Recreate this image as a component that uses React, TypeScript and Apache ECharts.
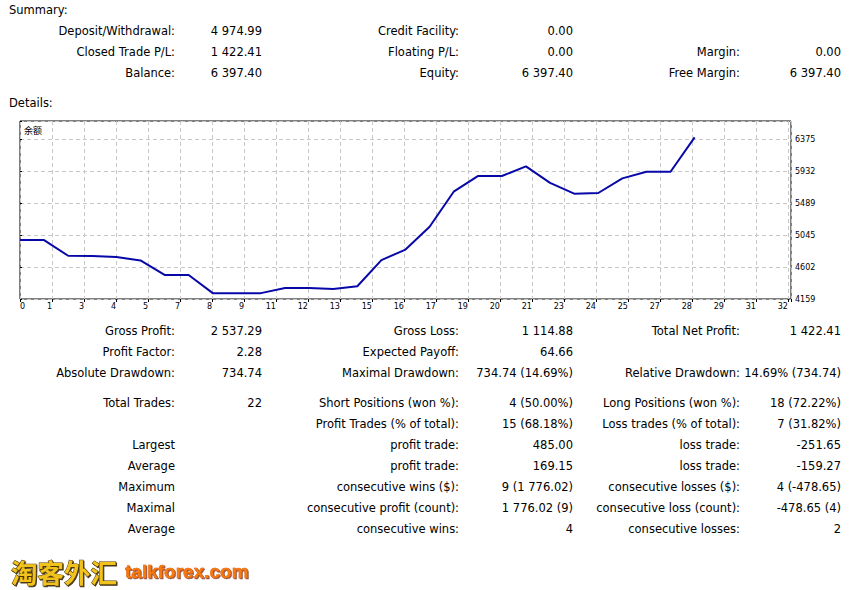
import React, { useEffect, useRef } from 'react';
import * as echarts from 'echarts';

// ---- chart data (balance after each operation) ----
const balance = [
  4974.99, 4974.99, 4757.6, 4753.4, 4739.5, 4693.8, 4491.9, 4491.9, 4240.25, 4240.25,
  4240.25, 4310.9, 4310.9, 4296.8, 4334.9, 4698.0, 4843.5, 5160.0, 5645.0, 5862.0,
  5862.0, 5996.0, 5768.0, 5618.0, 5627.0, 5830.0, 5922.0, 5922.0, 6397.4,
];
const xTickLabels = ['0', '1', '3', '4', '5', '7', '8', '9', '11', '12', '13', '15', '16', '17', '19', '20', '21', '23', '24', '25', '27', '28', '29', '31', '32'];
const yTickLabels = ['4159', '4602', '5045', '5489', '5932', '6375'];
const legendLabel = '余额';

// ---- report texts ----
const summaryTitle = 'Summary:';
const detailsTitle = 'Details:';
const summaryRows = [
  ['Deposit/Withdrawal:', '4 974.99', 'Credit Facility:', '0.00', '', ''],
  ['Closed Trade P/L:', '1 422.41', 'Floating P/L:', '0.00', 'Margin:', '0.00'],
  ['Balance:', '6 397.40', 'Equity:', '6 397.40', 'Free Margin:', '6 397.40'],
];
const detailRows = [
  ['Gross Profit:', '2 537.29', 'Gross Loss:', '1 114.88', 'Total Net Profit:', '1 422.41'],
  ['Profit Factor:', '2.28', 'Expected Payoff:', '64.66', '', ''],
  ['Absolute Drawdown:', '734.74', 'Maximal Drawdown:', '734.74 (14.69%)', 'Relative Drawdown:', '14.69% (734.74)'],
];
const tradeRows = [
  ['Total Trades:', '22', 'Short Positions (won %):', '4 (50.00%)', 'Long Positions (won %):', '18 (72.22%)'],
  ['', '', 'Profit Trades (% of total):', '15 (68.18%)', 'Loss trades (% of total):', '7 (31.82%)'],
  ['Largest', '', 'profit trade:', '485.00', 'loss trade:', '-251.65'],
  ['Average', '', 'profit trade:', '169.15', 'loss trade:', '-159.27'],
  ['Maximum', '', 'consecutive wins ($):', '9 (1 776.02)', 'consecutive losses ($):', '4 (-478.65)'],
  ['Maximal', '', 'consecutive profit (count):', '1 776.02 (9)', 'consecutive loss (count):', '-478.65 (4)'],
  ['Average', '', 'consecutive wins:', '4', 'consecutive losses:', '2'],
];
const watermarkCn = '淘客外汇';
const watermarkEn = 'talkforex.com';

// ---- axis scale settings ----
const X_MAX = 32;
const X_STEP = 1.328;
const Y_BASE = 4159;
const Y_STEP = 443.2;
const Y_TOP = 6624.3;

// ---- layout ----
const W = 849;
const H = 590;
const COL_X = [175, 262, 459, 573, 740, 841];
const SUMMARY_Y = [31, 52, 73];
const DETAIL_Y = [331, 352, 373];
const TRADE_Y = [403, 424, 445, 466, 487, 508, 529];
const FONT = '11.5px "DejaVu Sans", "Liberation Sans", sans-serif';

function textEl(text: string, x: number, y: number, align: string, font: string, extra: any = {}, z = 10) {
  return {
    type: 'text',
    x,
    y,
    silent: true,
    z,
    style: {
      text,
      font,
      fill: '#000',
      align,
      textAlign: align,
      verticalAlign: 'middle',
      textVerticalAlign: 'middle',
      ...extra,
    },
  };
}

function rowsToTexts(rows: string[][], ys: number[]) {
  const out: any[] = [];
  rows.forEach((row, r) => {
    row.forEach((cell, c) => {
      if (cell) out.push(textEl(cell, COL_X[c], ys[r], 'right', FONT));
    });
  });
  return out;
}

function nearMultiple(v: number, step: number) {
  const k = v / step;
  return Math.abs(k - Math.round(k)) < 1e-6 ? Math.round(k) : -1;
}

export default function App() {
  const ref = useRef<HTMLDivElement>(null);

  useEffect(() => {
    if (!ref.current) return;
    const chart = echarts.init(ref.current, null, { renderer: 'svg', width: W, height: H });

    const graphics: any[] = [
      textEl(summaryTitle, 9, 10, 'left', FONT),
      textEl(detailsTitle, 9, 103, 'left', FONT),
      ...rowsToTexts(summaryRows, SUMMARY_Y),
      ...rowsToTexts(detailRows, DETAIL_Y),
      ...rowsToTexts(tradeRows, TRADE_Y),
      textEl(legendLabel, 24, 130, 'left', '9px "Noto Sans CJK SC", sans-serif'),
      textEl(watermarkCn, 11, 571, 'left', 'bold 26.5px "Noto Sans CJK SC", sans-serif', {
        fill: '#f2c21c',
        stroke: '#4a3200',
        lineWidth: 1,
        textShadowColor: 'rgba(40,25,0,0.85)',
        textShadowOffsetX: 1,
        textShadowOffsetY: 1,
        textShadowBlur: 1,
      }),
      textEl(watermarkEn, 125, 571, 'left', 'bold 19px "Liberation Sans", Arial, sans-serif', {
        fill: '#f57a0c',
        stroke: '#c23200',
        lineWidth: 0.5,
        textShadowColor: 'rgba(110,30,0,0.7)',
        textShadowOffsetX: 1,
        textShadowOffsetY: 1,
        textShadowBlur: 1,
      }),
    ];

    chart.setOption({
      animation: false,
      backgroundColor: '#ffffff',
      grid: {
        left: 20,
        top: 121,
        width: 771,
        height: 178,
        show: true,
        borderColor: '#000000',
        borderWidth: 1,
        backgroundColor: '#ffffff',
      },
      xAxis: {
        type: 'value',
        min: 0,
        max: X_MAX,
        interval: X_STEP,
        axisLine: { show: false },
        axisTick: { show: true, length: 3, lineStyle: { color: '#000' } },
        axisLabel: {
          fontSize: 8,
          fontFamily: 'DejaVu Sans',
          color: '#000',
          margin: 3,
          align: 'right',
          alignMinLabel: 'left',
          formatter: (v: number) => {
            const k = nearMultiple(v, X_STEP);
            return k >= 0 && k < xTickLabels.length ? xTickLabels[k] : '';
          },
        },
        splitLine: { show: true, lineStyle: { color: '#c8c8c8', type: [4, 3], width: 1 } },
      },
      yAxis: {
        type: 'value',
        position: 'right',
        min: 0,
        max: Y_TOP - Y_BASE,
        interval: Y_STEP,
        axisLine: { show: false },
        axisTick: { show: true, length: 2, lineStyle: { color: '#000' } },
        axisLabel: {
          fontSize: 8,
          fontFamily: 'DejaVu Sans',
          color: '#000',
          margin: 4,
          formatter: (v: number) => {
            const k = nearMultiple(v, Y_STEP);
            return k >= 0 && k < yTickLabels.length ? yTickLabels[k] : '';
          },
        },
        splitLine: { show: true, lineStyle: { color: '#c8c8c8', type: [4, 3], width: 1 } },
      },
      series: [
        {
          type: 'line',
          data: balance.map((v, i) => [i, v - Y_BASE]),
          symbol: 'none',
          silent: true,
          lineStyle: { color: '#0808a8', width: 2 },
        },
      ],
      graphic: graphics,
    });

    return () => chart.dispose();
  }, []);

  return (
    <div
      ref={ref}
      style={{ position: 'absolute', left: 0, top: 0, width: W, height: H, background: '#fff' }}
    />
  );
}
